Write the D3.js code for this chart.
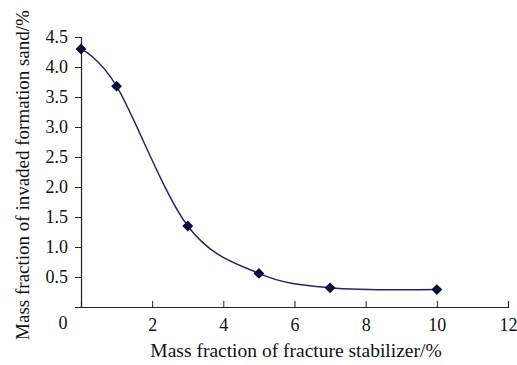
<!DOCTYPE html>
<html>
<head>
<meta charset="utf-8">
<script src="https://cdn.jsdelivr.net/npm/d3@7"></script>
<style>
  html, body { margin: 0; padding: 0; background: #fff; }
  svg text { font-family: "Liberation Serif", "Times New Roman", serif; fill: #111; }
</style>
</head>
<body>
<div id="chart"></div>
<script>
const stabilizer = [0, 1, 3, 5, 7, 10];
const invadedSand = [4.3, 3.68, 1.35, 0.56, 0.32, 0.29];
const xTicks = [2, 4, 6, 8, 10, 12];
const yTicks = [0.5, 1.0, 1.5, 2.0, 2.5, 3.0, 3.5, 4.0, 4.5];

const LINE_COLOR = '#24246a';
const MARKER_COLOR = '#0b0b3c';

function drawChart() {
    const width = 517, height = 365;
    const margin = { top: 37, right: 9, bottom: 58, left: 81 };
    const innerW = width - margin.left - margin.right;
    const innerH = height - margin.top - margin.bottom;

    const svg = d3.select('#chart')
        .append('svg')
        .attr('width', width)
        .attr('height', height);

    const g = svg.append('g')
        .attr('transform', `translate(${margin.left},${margin.top})`);

    const x = d3.scaleLinear().domain([0, 12]).range([0, innerW]);
    const y = d3.scaleLinear().domain([0, 4.5]).range([innerH, 0]);

    // x axis, ticks pointing up into the plot
    const xAxis = g.append('g')
        .attr('transform', `translate(0,${innerH})`)
        .call(d3.axisBottom(x).tickValues(xTicks).tickSize(-6).tickPadding(11).tickFormat(d3.format('d')));
    xAxis.select('.domain').attr('stroke', '#222').attr('stroke-width', 1.2);
    xAxis.selectAll('.tick line').attr('stroke', '#222');
    xAxis.selectAll('text').style('font-size', '18px');

    // the lone "0" under the origin
    g.append('text')
        .attr('x', x(0) - 18)
        .attr('y', innerH + 22)
        .attr('text-anchor', 'middle')
        .style('font-size', '18px')
        .text('0');

    const yAxis = g.append('g')
        .call(d3.axisLeft(y).tickValues(yTicks).tickSize(6).tickPadding(7).tickFormat(d3.format('.1f')));
    yAxis.select('.domain').attr('stroke', '#222').attr('stroke-width', 1.2);
    yAxis.selectAll('.tick line').attr('stroke', '#222');
    yAxis.selectAll('text').style('font-size', '18px');

    const points = stabilizer.map((v, i) => [v, invadedSand[i]]);

    const line = d3.line()
        .x(d => x(d[0]))
        .y(d => y(d[1]))
        .curve(d3.curveCatmullRom.alpha(0));

    g.append('path')
        .datum(points)
        .attr('fill', 'none')
        .attr('stroke', LINE_COLOR)
        .attr('stroke-width', 1.5)
        .attr('d', line);

    g.selectAll('.marker')
        .data(points)
        .enter()
        .append('path')
        .attr('class', 'marker')
        .attr('transform', d => `translate(${x(d[0])},${y(d[1])})`)
        .attr('d', d3.symbol().type(d3.symbolDiamond2).size(75))
        .attr('fill', MARKER_COLOR);

    svg.append('text')
        .attr('x', 296)
        .attr('y', 357)
        .attr('text-anchor', 'middle')
        .style('font-size', '19.5px')
        .text('Mass fraction of fracture stabilizer/%');

    svg.append('text')
        .attr('transform', 'translate(29,175) rotate(-90)')
        .attr('text-anchor', 'middle')
        .style('font-size', '19px')
        .text('Mass fraction of invaded formation sand/%');
}

document.addEventListener('DOMContentLoaded', drawChart);
</script>
</body>
</html>
